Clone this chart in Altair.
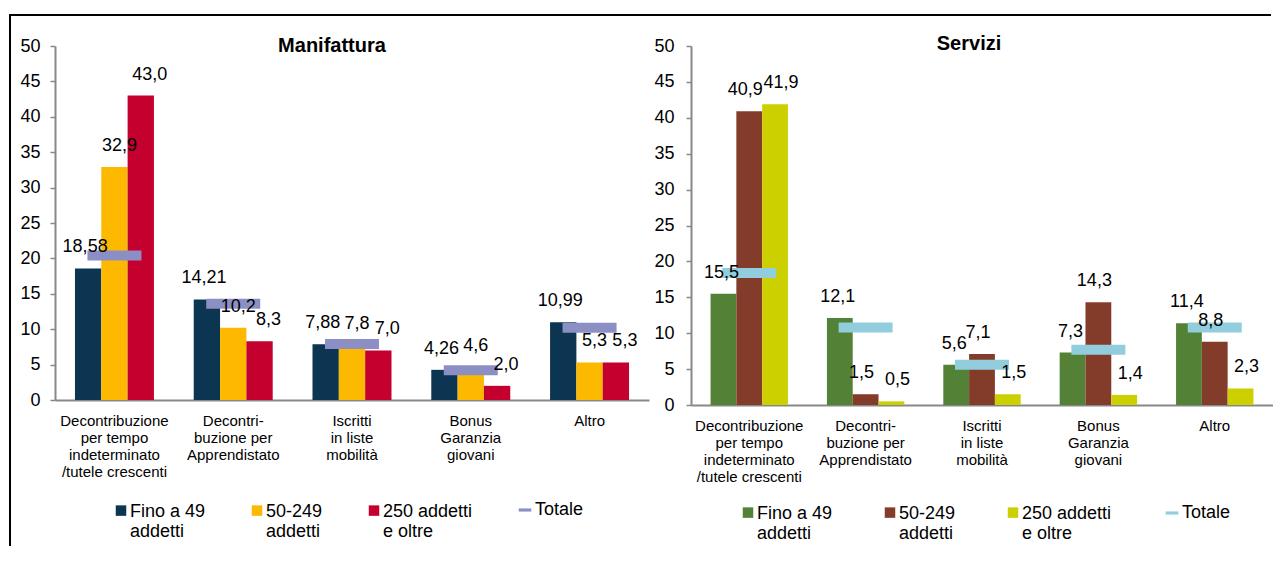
import altair as alt
import pandas as pd

# ---------------- data ----------------
categories = [
    "Decontribuzione|per tempo|indeterminato|/tutele crescenti",
    "Decontri-|buzione per|Apprendistato",
    "Iscritti|in liste|mobilità",
    "Bonus|Garanzia|giovani",
    "Altro",
]
series = ["Fino a 49|addetti", "50-249|addetti", "250 addetti|e oltre"]
totale_name = "Totale"
y_ticks = [0, 5, 10, 15, 20, 25, 30, 35, 40, 45, 50]

manif_fino49 = [18.58, 14.21, 7.88, 4.26, 10.99]
manif_50_249 = [32.9, 10.2, 7.8, 4.6, 5.3]
manif_250 = [43.0, 8.3, 7.0, 2.0, 5.3]
manif_totale = [20.4, 13.6, 7.9, 4.2, 10.2]
manif_decimals = [2, 1, 1]

serv_fino49 = [15.5, 12.1, 5.6, 7.3, 11.4]
serv_50_249 = [40.9, 1.5, 7.1, 14.3, 8.8]
serv_250 = [41.9, 0.5, 1.5, 1.4, 2.3]
serv_totale = [18.4, 10.8, 5.6, 7.7, 10.8]
serv_decimals = [1, 1, 1]

manif_colors = ["#0B3550", "#FDB800", "#C4002F", "#8B8FC4"]
serv_colors = ["#538135", "#843C2A", "#CCD000", "#92CDDD"]

FONT = "Liberation Sans"
AXIS_GRAY = "#888888"
DASH = "M-1.2,-0.3H1.2V0.3H-1.2Z"
# square symbol drawn level with the first line of the two-line legend labels
SQUARE_UP = "M-1,-2.22H1V-0.22H-1Z"


def fmt(v, d):
    return f"{v:.{d}f}".replace(".", ",")


def make_panel(title, vals, totale, colors, decimals, width, height,
               title_x, title_y, leg_x, leg_y, leg_pad, tot_x, tot_y,
               label_dx, y_label_pad, top_x1, top_x2, left_border):
    rows = []
    for si, s in enumerate(series):
        for ci, c in enumerate(categories):
            rows.append({"categoria": c, "serie": s, "valore": vals[si][ci],
                         "etichetta": fmt(vals[si][ci], decimals[si])})
    bars_df = pd.DataFrame(rows)
    tot_df = pd.DataFrame({"categoria": categories, "valore": totale,
                           "serie": [totale_name] * len(categories)})

    x_enc = alt.X(
        "categoria:N", sort=categories,
        scale=alt.Scale(paddingInner=0.335, paddingOuter=0.168),
        axis=alt.Axis(title=None, labelExpr="split(datum.label, '|')",
                      labelAngle=0, ticks=False, tickSize=0, labelPadding=13,
                      labelFontSize=15, labelLineHeight=17, labelLimit=300,
                      labelOverlap=False, labelColor="black",
                      domainColor=AXIS_GRAY, domainWidth=2),
    )
    y_enc = alt.Y(
        "valore:Q",
        scale=alt.Scale(domain=[0, 50], nice=False),
        axis=alt.Axis(title=None, values=y_ticks, tickSize=5,
                      labelPadding=y_label_pad,
                      labelFontSize=18, labelColor="black", grid=False,
                      domainColor=AXIS_GRAY, domainWidth=2,
                      tickColor=AXIS_GRAY, tickWidth=1.5),
    )
    xoff = alt.XOffset("serie:N", sort=series,
                       scale=alt.Scale(domain=series, paddingInner=0, paddingOuter=0))

    bars = alt.Chart(bars_df).mark_bar().encode(
        x=x_enc, y=y_enc, xOffset=xoff,
        color=alt.Color(
            "serie:N", sort=series,
            scale=alt.Scale(domain=series, range=colors[:3]),
            legend=alt.Legend(
                title=None, orient="none", legendX=leg_x, legendY=leg_y,
                direction="horizontal", symbolType=SQUARE_UP, symbolSize=110,
                symbolStrokeWidth=0,
                labelFontSize=18, labelColor="black", labelOffset=0,
                labelLimit=200, columnPadding=leg_pad, padding=0,
                labelExpr="split(datum.label, '|')", labelBaseline="alphabetic",
            ),
        ),
    )
    ticks = alt.Chart(tot_df).mark_tick(size=54, thickness=10, opacity=1).encode(
        x=x_enc, y=y_enc,
        fill=alt.Fill(
            "serie:N",
            scale=alt.Scale(domain=[totale_name], range=[colors[3]]),
            legend=alt.Legend(
                title=None, orient="none", legendX=tot_x, legendY=tot_y,
                symbolType=DASH, symbolSize=110, symbolStrokeWidth=0,
                labelFontSize=18, labelColor="black", labelOffset=1, padding=0,
            ),
        ),
    )
    label_layers = []
    for si, s in enumerate(series):
        label_layers.append(
            alt.Chart(bars_df[bars_df["serie"] == s]).mark_text(
                fontSize=18, baseline="middle", dy=-21, dx=label_dx[si],
                color="black", font=FONT
            ).encode(x=x_enc, y=y_enc, xOffset=xoff, text="etichetta:N")
        )

    title_layer = alt.Chart(pd.DataFrame({"t": [title]})).mark_text(
        fontSize=20, fontWeight="bold", color="black", font=FONT, baseline="middle"
    ).encode(x=alt.value(title_x), y=alt.value(title_y), text="t:N")

    one = pd.DataFrame({"k": [0]})
    top_rule = alt.Chart(one).mark_rule(color="black", strokeWidth=2).encode(
        x=alt.value(top_x1), x2=alt.value(top_x2), y=alt.value(-31))
    layers = [top_rule]
    if left_border:
        layers.append(alt.Chart(one).mark_rule(color="black", strokeWidth=2).encode(
            x=alt.value(-45), y=alt.value(-31), y2=alt.value(500)))
    layers += [title_layer, bars, ticks] + label_layers
    return alt.layer(*layers).properties(width=width, height=height)


left = make_panel("Manifattura", [manif_fino49, manif_50_249, manif_250],
                  manif_totale, manif_colors, manif_decimals, 594, 354,
                  277, 0, 57, 462, 42, 461, 455, [-3, 5, 9], 10,
                  -46, 600, True)
right = make_panel("Servizi", [serv_fino49, serv_50_249, serv_250],
                   serv_totale, serv_colors, serv_decimals, 582, 359,
                   278, -2, 48, 464, 48, 472, 458, [-2, -4, 6], 12,
                   -48, 580, False)

chart = (
    alt.hconcat(left, right, spacing=42, bounds="flush")
    .resolve_scale(x="independent", y="independent", color="independent",
                   fill="independent", xOffset="independent")
    .resolve_legend(color="independent", fill="independent")
    .resolve_axis(x="independent", y="independent")
    .properties(padding={"left": 0, "top": 6, "right": 0, "bottom": 0},
                background="white")
    .configure(font=FONT)
    .configure_view(strokeWidth=0)
)

chart.save("out.html", embed_options={"renderer": "svg", "actions": False})
